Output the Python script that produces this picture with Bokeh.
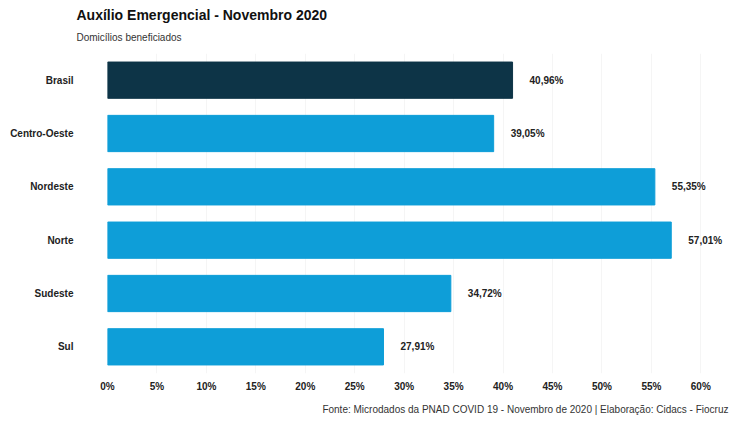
from bokeh.plotting import figure
from bokeh.models import ColumnDataSource, Title, FixedTicker, Range1d
from bokeh.core.properties import value
from bokeh.embed import file_html
from bokeh.resources import INLINE

categories = ["Brasil", "Centro-Oeste", "Nordeste", "Norte", "Sudeste", "Sul"]
values = [40.96, 39.05, 55.35, 57.01, 34.72, 27.91]
labels = ["40,96%", "39,05%", "55,35%", "57,01%", "34,72%", "27,91%"]
colors = ["#0d3447", "#0e9ed8", "#0e9ed8", "#0e9ed8", "#0e9ed8", "#0e9ed8"]
x_ticks = [0, 5, 10, 15, 20, 25, 30, 35, 40, 45, 50, 55, 60]
x_tick_labels = ["0%", "5%", "10%", "15%", "20%", "25%", "30%", "35%", "40%", "45%", "50%", "55%", "60%"]

FONT = "Liberation Sans"

src = ColumnDataSource(dict(cat=categories, val=values, lab=labels, col=colors))

p = figure(width=730, height=421, y_range=list(reversed(categories)),
           x_range=Range1d(0, 63), output_backend="svg", toolbar_location=None,
           min_border_left=107, min_border_right=0, min_border_top=53,
           min_border_bottom=46)

p.hbar(y="cat", right="val", left=0, height=0.68, color="col", source=src)
p.text(x="val", y="cat", text="lab", source=src, x_offset=17,
       text_baseline="middle", text_align="left", text_font=value(FONT),
       text_font_size="10px", text_font_style="bold", text_color="#222222")

p.outline_line_color = None
p.background_fill_color = "white"
p.border_fill_color = "white"
p.ygrid.grid_line_color = None
p.xgrid.grid_line_color = "#f5f5f5"
p.xgrid.ticker = FixedTicker(ticks=x_ticks)

p.xaxis.ticker = FixedTicker(ticks=x_ticks)
p.xaxis.major_label_overrides = {t: l for t, l in zip(x_ticks, x_tick_labels)}
p.xaxis.axis_line_color = None
p.xaxis.major_tick_line_color = None
p.xaxis.minor_tick_line_color = None
p.xaxis.major_tick_out = 0
p.xaxis.minor_tick_out = 0
p.xaxis.major_label_standoff = 7
p.xaxis.major_label_text_font = FONT
p.xaxis.major_label_text_font_size = "10px"
p.xaxis.major_label_text_font_style = "bold"
p.xaxis.major_label_text_color = "#222222"

p.yaxis.axis_line_color = None
p.yaxis.major_tick_line_color = None
p.yaxis.major_tick_out = 0
p.yaxis.minor_tick_out = 0
p.yaxis.major_label_standoff = 34
p.yaxis.major_label_text_font = FONT
p.yaxis.major_label_text_font_size = "10px"
p.yaxis.major_label_text_font_style = "bold"
p.yaxis.major_label_text_color = "#222222"

p.add_layout(Title(text="Fonte: Microdados da PNAD COVID 19 - Novembro de 2020 | Elaboração: Cidacs - Fiocruz",
                   align="right", text_font=FONT, text_font_size="10px",
                   text_font_style="normal", text_color="#333333", offset=2,
                   standoff=14), "below")
p.add_layout(Title(text="Domicílios beneficiados", align="left", text_font=FONT,
                   text_font_size="10px", text_font_style="normal", text_color="#333333",
                   offset=-31, standoff=22), "above")
p.add_layout(Title(text="Auxílio Emergencial - Novembro 2020", align="left", text_font=FONT,
                   text_font_size="14px", text_font_style="bold", text_color="#111111",
                   offset=-31, standoff=-9), "above")

open("out.html", "w").write(file_html(p, INLINE))
